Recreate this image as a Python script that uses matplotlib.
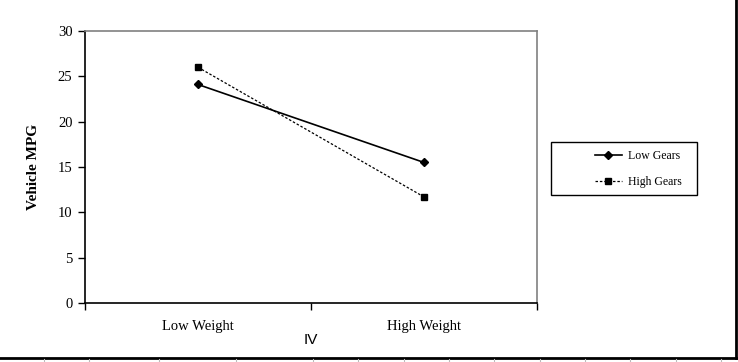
import matplotlib.pyplot as plt
from matplotlib.lines import Line2D
from matplotlib.patches import Rectangle

# data
categories = ['Low Weight', 'High Weight']
low_gears = [24.1, 15.5]
high_gears = [26.0, 11.7]
y_ticks = [0, 5, 10, 15, 20, 25, 30]

serif = ['Liberation Serif', 'DejaVu Serif']

fig = plt.figure(figsize=(7.38, 3.62), dpi=100)
ax = fig.add_axes([85/738, 1 - 303/362, (537 - 85)/738, (303 - 31)/362])

x = [0.5, 1.5]
ax.plot(x, low_gears, color='black', linestyle='-', linewidth=1.2,
        marker='D', markersize=4.5, label='Low Gears')
ax.plot(x, high_gears, color='black', linestyle=(0, (2, 1.5)), linewidth=0.9,
        marker='s', markersize=5, label='High Gears')

ax.set_xlim(0, 2)
ax.set_ylim(0, 30)
ax.set_yticks(y_ticks)
ax.set_yticklabels([str(v) for v in y_ticks], fontfamily=serif, fontsize=10.5)
ax.tick_params(axis='y', direction='out', length=5, width=1, pad=4)

# category ticks at boundaries, labels at centres
ax.set_xticks([0, 1, 2])
ax.set_xticklabels([])
ax.set_xticks(x, minor=True)
ax.set_xticklabels(categories, minor=True, fontfamily=serif, fontsize=10.5)
ax.tick_params(axis='x', which='minor', length=0, pad=12)
ax.tick_params(axis='x', which='major', direction='out', length=5, width=1)

for s in ['top', 'right']:
    ax.spines[s].set_color('#808080')
    ax.spines[s].set_linewidth(1.2)
for s in ['left', 'bottom']:
    ax.spines[s].set_color('black')
    ax.spines[s].set_linewidth(1.2)

ax.set_ylabel('Vehicle MPG', fontfamily=serif, fontsize=11, fontweight='bold', labelpad=13)
fig.text(311/738, 1 - 340/362, 'IV', fontfamily=['Liberation Sans', 'DejaVu Sans'],
         fontsize=11, ha='center', va='center')

# legend content without frame, box drawn separately (Excel style padding)
leg = fig.legend(loc='center', bbox_to_anchor=(638/738, 1 - 169/362),
                 prop={'family': serif, 'size': 8.5}, frameon=False,
                 handlelength=2.3, labelspacing=1.2, handletextpad=0.5,
                 borderaxespad=0)
fig.add_artist(Rectangle((551/738, 1 - 195/362), 146/738, 53/362,
                         transform=fig.transFigure, fill=False,
                         edgecolor='black', linewidth=1))

# outer chart border and spreadsheet grid remnants
fig.add_artist(Line2D([736/738, 736/738], [1 - 358/362, 1], color='black', linewidth=2))
fig.add_artist(Line2D([0, 737/738], [1 - 358/362, 1 - 358/362], color='black', linewidth=2))
for gx in [44, 89, 159, 236, 313, 358, 404, 449, 494, 540, 585, 630, 676, 721]:
    fig.add_artist(Line2D([gx/738, gx/738], [0, 1 - 359/362], color='#bbbbbb', linewidth=0.8))

fig.savefig('out.png', dpi=100)
